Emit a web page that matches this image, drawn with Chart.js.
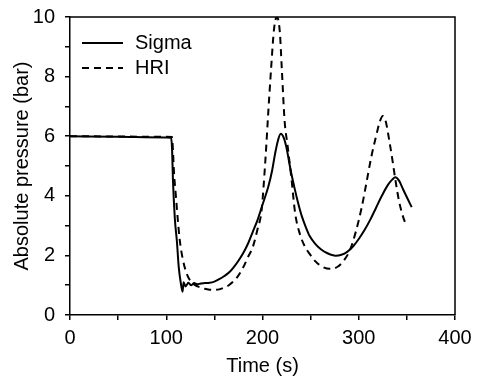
<!DOCTYPE html>
<html>
<head>
<meta charset="utf-8">
<script src="https://cdn.jsdelivr.net/npm/chart.js@4.4.1/dist/chart.umd.min.js"></script>
<style>
    html, body { margin: 0; padding: 0; background: #fff; }
    #wrap { width: 477px; height: 378px; }
</style>
</head>
<body>
<div id="wrap"><canvas id="grafica" width="477" height="378"></canvas></div>
<script>
// series
const sigmaTime = [0, 50, 100, 105, 106, 107, 109, 111, 113, 115, 117, 118, 120, 123, 126, 129, 132, 136, 140, 145, 150, 155, 160, 166, 170, 175, 180, 185, 190, 195, 200, 206, 210, 213, 216, 219, 222, 225, 229, 233, 237, 241, 245, 249, 255, 261, 267, 276, 282, 288, 294, 300, 306, 312, 318, 324, 330, 335, 338, 342, 346, 350, 355];
const sigmaPressure = [6.0, 5.98, 5.96, 5.95, 5.6, 4.5, 3.2, 2.5, 1.6, 1.1, 0.78, 1.1, 0.96, 1.08, 1.0, 1.07, 1.03, 1.06, 1.07, 1.08, 1.12, 1.2, 1.3, 1.45, 1.6, 1.82, 2.08, 2.4, 2.8, 3.2, 3.7, 4.3, 4.85, 5.4, 5.85, 6.08, 5.95, 5.6, 4.9, 4.3, 3.76, 3.3, 2.95, 2.65, 2.38, 2.2, 2.08, 1.99, 2.02, 2.12, 2.3, 2.55, 2.85, 3.2, 3.6, 4.0, 4.35, 4.55, 4.62, 4.5, 4.22, 3.95, 3.62];

const hriTime = [0, 50, 100, 106, 107, 108, 110, 112, 114, 117, 121, 125, 130, 135, 140, 145, 149, 155, 160, 165, 173, 180, 185, 190, 195, 199, 203, 206, 209, 212, 215, 218, 220, 223, 226, 230, 234, 239, 244, 249, 255, 262, 270, 278, 285, 291, 297, 303, 308, 313, 318, 322, 325, 328, 332, 335, 338, 342, 346, 349];
const hriPressure = [6.0, 5.99, 5.98, 5.97, 5.5, 4.8, 4.0, 3.2, 2.52, 1.9, 1.41, 1.15, 1.0, 0.93, 0.88, 0.85, 0.84, 0.86, 0.92, 1.0, 1.24, 1.6, 1.95, 2.29, 2.9, 3.5, 5.2, 6.8, 8.3, 9.6, 10.0, 9.5, 8.3, 6.5, 5.7, 4.6, 3.4, 2.7, 2.3, 2.05, 1.8, 1.62, 1.55, 1.62, 1.85, 2.19, 2.8, 3.6, 4.44, 5.3, 6.0, 6.5, 6.68, 6.5, 5.8, 5.2, 4.55, 3.8, 3.3, 3.03];

const xTicks = [0, 100, 200, 300, 400];
const yTicks = [0, 2, 4, 6, 8, 10];

const FONT = 'Liberation Sans, Arial, sans-serif';

function puntos(xs, ys) {
    return xs.map((x, i) => ({ x: x, y: ys[i] }));
}

// box on the top and right, plus the legend inside the plot
const marco = {
    id: 'marco',
    afterDraw(chart) {
        const { ctx, chartArea: a } = chart;
        ctx.save();
        ctx.strokeStyle = '#000';
        ctx.lineWidth = 1.5;
        ctx.beginPath();
        ctx.moveTo(a.left, a.top);
        ctx.lineTo(a.right, a.top);
        ctx.lineTo(a.right, a.bottom);
        ctx.stroke();

        ctx.font = '20px ' + FONT;
        ctx.textBaseline = 'middle';
        ctx.fillStyle = '#000';
        chart.data.datasets.forEach((ds, i) => {
            const y = 43 + i * 25;
            ctx.lineWidth = ds.borderWidth;
            ctx.setLineDash(ds.borderDash || []);
            ctx.beginPath();
            ctx.moveTo(82, y);
            ctx.lineTo(123, y);
            ctx.stroke();
            ctx.setLineDash([]);
            ctx.fillText(ds.label, 135, y);
        });
        ctx.restore();
    }
};

const ejeComun = {
    border: { color: '#000', width: 1.5 },
    grid: { drawOnChartArea: false, drawTicks: true, tickLength: 5, tickColor: '#000', lineWidth: 1.5 }
};

new Chart(document.getElementById('grafica').getContext('2d'), {
    type: 'line',
    data: {
        datasets: [{
            label: 'Sigma',
            data: puntos(sigmaTime, sigmaPressure),
            borderColor: '#000',
            borderWidth: 2,
            pointRadius: 0,
            cubicInterpolationMode: 'monotone',
            fill: false
        }, {
            label: 'HRI',
            data: puntos(hriTime, hriPressure),
            borderColor: '#000',
            borderWidth: 2,
            borderDash: [7, 5],
            pointRadius: 0,
            cubicInterpolationMode: 'monotone',
            fill: false
        }]
    },
    options: {
        responsive: false,
        animation: false,
        layout: { padding: { left: 0, right: 22, top: 17, bottom: 0 } },
        plugins: {
            legend: { display: false },
            tooltip: { enabled: false }
        },
        scales: {
            x: {
                type: 'linear',
                min: 0,
                max: 400,
                ...ejeComun,
                ticks: {
                    stepSize: 50,
                    padding: 6,
                    color: '#000',
                    maxRotation: 0,
                    font: { family: FONT, size: 20 },
                    callback: v => xTicks.includes(v) ? String(v) : ''
                },
                title: {
                    display: true,
                    text: 'Time (s)',
                    color: '#000',
                    font: { family: FONT, size: 20 },
                    padding: { top: 0, bottom: 0 }
                },
                afterFit: s => { s.height = 63; s.paddingLeft = 0; s.paddingRight = 0; }
            },
            y: {
                type: 'linear',
                min: 0,
                max: 10,
                ...ejeComun,
                ticks: {
                    stepSize: 1,
                    padding: 10,
                    color: '#000',
                    font: { family: FONT, size: 20 },
                    callback: v => yTicks.includes(v) ? String(v) : ''
                },
                title: {
                    display: true,
                    text: 'Absolute pressure (bar)',
                    color: '#000',
                    font: { family: FONT, size: 20 },
                    padding: { top: 10, bottom: 0 }
                },
                afterFit: s => { s.width = 70; s.paddingTop = 0; s.paddingBottom = 0; }
            }
        }
    },
    plugins: [marco]
});
</script>
</body>
</html>
